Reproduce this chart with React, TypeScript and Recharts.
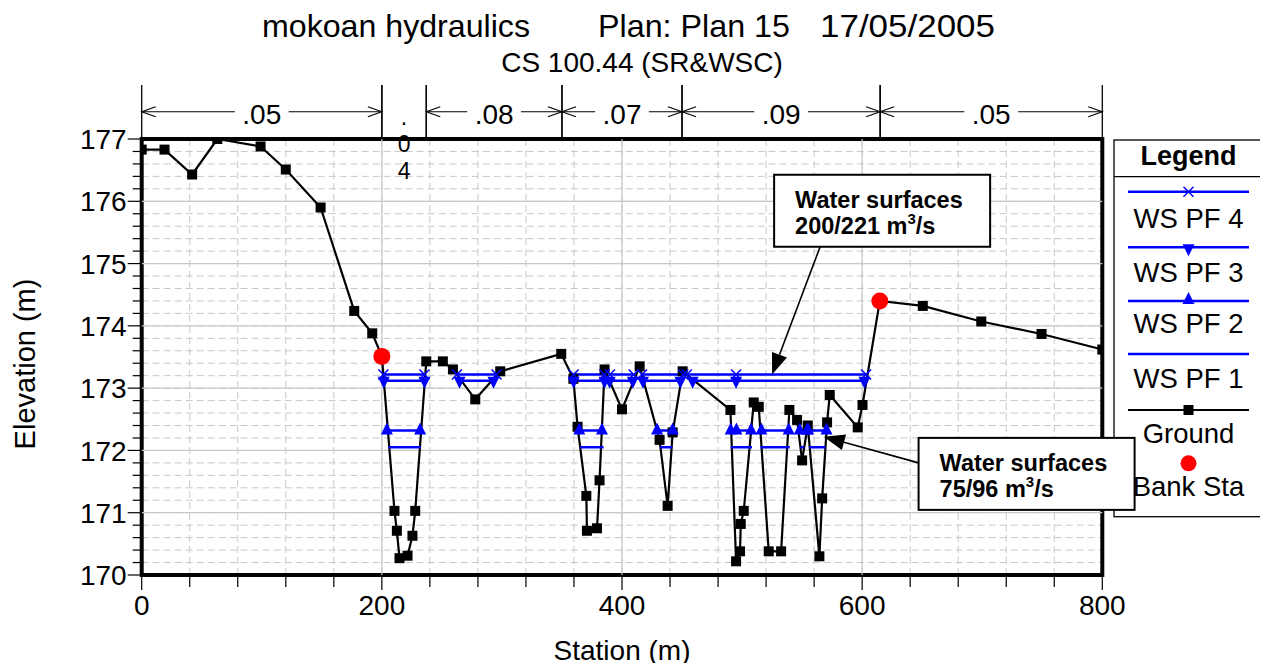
import React from 'react';
import {
  ComposedChart,
  Line,
  Scatter,
  XAxis,
  YAxis,
  CartesianGrid,
  ReferenceLine,
  ReferenceArea,
  Legend,
} from 'recharts';

const FONT = '"Liberation Sans", Arial, Helvetica, sans-serif';
const BLUE = '#0000ff';
const GRID = '#c8c8c8';

// ---- Ground profile (station m, elevation m) ----
const groundStations = [
  0, 19, 42, 63, 99, 120, 149, 177, 192, 200,
  210.5, 212.5, 214.7, 221.4, 225.5, 227.8, 237, 250.8, 259.2, 277.8,
  298.6, 349.4, 359.5, 363, 370.3, 370.8, 379.2, 381.3, 385.5, 400,
  414.7, 431.3, 438, 442.2, 450.5, 490.3, 495, 498.3, 498.9, 501.4,
  509.7, 513.9, 522.2, 532.5, 539.4, 545.8, 550, 554.7, 564.4, 566.7,
  570.8, 573, 596.3, 600.3, 614.7, 650.5, 699.2, 749.4, 800,
];
const groundElevations = [
  176.83, 176.83, 176.43, 177.0, 176.88, 176.51, 175.9, 174.24, 173.88, 173.51,
  171.03, 170.71, 170.27, 170.31, 170.63, 171.03, 173.43, 173.43, 173.3, 172.82,
  173.27, 173.55, 173.15, 172.38, 171.27, 170.71, 170.75, 171.52, 173.3, 172.66,
  173.35, 172.17, 171.11, 172.29, 173.27, 172.65, 170.22, 170.38, 170.82, 171.03,
  172.77, 172.7, 170.38, 170.38, 172.65, 172.49, 171.84, 172.4, 170.3, 171.23,
  172.45, 172.89, 172.37, 172.73, 174.4, 174.32, 174.07, 173.87, 173.62,
];

// ---- Bank stations ----
const bankStations = [200, 614.7];
const bankElevations = [173.51, 174.4];

// ---- Water surfaces (elevation + wetted station segments) ----
const wsPF4Elevation = 173.22;
const wsPF4Segments = [[201.3, 235.5], [262.5, 295.5], [359.7, 385.3], [390, 409.7], [416.7, 451], [454, 495, 603.3]];
const wsPF3Elevation = 173.12;
const wsPF3Segments = [[201.6, 235.5], [264.7, 293], [359.7, 385.5], [389.7, 409], [417.5, 448.6], [458.8, 495, 601.9]];
const wsPF2Elevation = 172.32;
const wsPF2Segments = [[204.2, 231.9], [364.4, 383.3], [429.2, 442.2], [490.5, 495.3, 507.5], [516.1, 538.8], [548, 554.2], [555.1, 570.3]];
const wsPF1Elevation = 172.05;
const wsPF1Segments = [[205.5, 232.5], [365, 384.7], [431.5, 442], [490.5, 508.3], [515.3, 539.7], [548.6, 551.8], [556, 569.4]];

// ---- Axes ----
const xTicks = [0, 40, 80, 120, 160, 200, 240, 280, 320, 360, 400, 440, 480, 520, 560, 600, 640, 680, 720, 760, 800];
const xTickLabels = [0, 200, 400, 600, 800];
const yTickLabels = [170, 171, 172, 173, 174, 175, 176, 177];
const yMinorSteps = [0, 0.2, 0.4, 0.6, 0.8];
const yTicks = yTickLabels.flatMap((t, i) =>
  i === yTickLabels.length - 1 ? [t] : yMinorSteps.map((m) => +(t + m).toFixed(1))
);

// ---- Manning's n regions ----
const nBreaks = [0, 200, 237, 350, 450, 615, 800];
const nValues = ['.05', '.04', '.08', '.07', '.09', '.05'];

// ---- Callouts ----
const calloutAnchorStations = [565, 647];
const calloutAnchorElevations = [175.27, 171.8];
const calloutTipStations = [525, 568];
const calloutTipElevations = [173.22, 172.22];
const calloutTitles = ['Water surfaces', 'Water surfaces'];
const calloutFlows = ['200/221', '75/96'];

// ---- Legend ----
const legendLabels = ['WS PF 4', 'WS PF 3', 'WS PF 2', 'WS PF 1', 'Ground', 'Bank Sta'];

// ---- derived tables ----
const groundData = groundStations.map((s, i) => ({ s, v: groundElevations[i] }));
const bankData = bankStations.map((s, i) => ({ s, v: bankElevations[i] }));
function wsData(segs: number[][], elev: number) {
  const out: { s: number; v: number | null }[] = [];
  segs.forEach((seg, i) => {
    if (i > 0) {
      const prev = segs[i - 1];
      out.push({ s: (prev[prev.length - 1] + seg[0]) / 2, v: null });
    }
    seg.forEach((s) => out.push({ s, v: elev }));
  });
  return out;
}
const pf4Data = wsData(wsPF4Segments, wsPF4Elevation);
const pf3Data = wsData(wsPF3Segments, wsPF3Elevation);
const pf2Data = wsData(wsPF2Segments, wsPF2Elevation);
const pf1Data = wsData(wsPF1Segments, wsPF1Elevation);

// ---- marker shapes ----
const empty = (k: string) => <g key={k} />;
const xMark = (p: any) => {
  const k = `x${p.index}`;
  if (p.cx == null || p.cy == null || p.payload?.v == null) return empty(k);
  const r = 5;
  return (
    <g key={k}>
      <line x1={p.cx - r} y1={p.cy - r} x2={p.cx + r} y2={p.cy + r} stroke={BLUE} strokeWidth={1.5} />
      <line x1={p.cx - r} y1={p.cy + r} x2={p.cx + r} y2={p.cy - r} stroke={BLUE} strokeWidth={1.5} />
    </g>
  );
};
const downTri = (p: any) => {
  const k = `d${p.index}`;
  if (p.cx == null || p.cy == null || p.payload?.v == null) return empty(k);
  const { cx, cy } = p;
  return <polygon key={k} points={`${cx - 6},${cy - 4} ${cx + 6},${cy - 4} ${cx},${cy + 8}`} fill={BLUE} />;
};
const upTri = (p: any) => {
  const k = `u${p.index}`;
  if (p.cx == null || p.cy == null || p.payload?.v == null) return empty(k);
  const { cx, cy } = p;
  return <polygon key={k} points={`${cx - 6},${cy + 4} ${cx + 6},${cy + 4} ${cx},${cy - 8}`} fill={BLUE} />;
};
const square = (p: any) => {
  const k = `q${p.index}`;
  if (p.cx == null || p.cy == null) return empty(k);
  if (p.payload && bankStations.includes(p.payload.s)) return empty(k);
  return <rect key={k} x={p.cx - 5} y={p.cy - 5} width={10} height={10} fill="#000" />;
};

// ---- ticks ----
const YTick = (props: any) => {
  const { x, y, payload } = props;
  const v = payload.value;
  const major = yTickLabels.some((t) => Math.abs(t - v) < 1e-6);
  return (
    <g>
      <line x1={x} x2={x - (major ? 14 : 9)} y1={y} y2={y} stroke="#000" strokeWidth={1.2} />
      {major && (
        <text x={x - 15} y={y} dy="0.36em" textAnchor="end" fontSize={28} fontFamily={FONT} fill="#000">
          {Math.round(v)}
        </text>
      )}
    </g>
  );
};
const XTick = (props: any) => {
  const { x, y, payload } = props;
  const v = payload.value;
  const major = xTickLabels.includes(v);
  return (
    <g>
      <line x1={x} x2={x} y1={y} y2={y + (major ? 15 : 12)} stroke="#000" strokeWidth={1.2} />
      {major && (
        <text x={x} y={y + 30} dy="0.36em" textAnchor="middle" fontSize={28} fontFamily={FONT} fill="#000">
          {v}
        </text>
      )}
    </g>
  );
};

// ---- Manning's n header ----
const nHeader = (p: any, label: string) => {
  const { x1, y1, x2 } = p;
  const top = y1 - 54;
  const ly = y1 - 27.3;
  const mid = (x1 + x2) / 2;
  const wide = x2 - x1 > 70;
  const half = label.length * 7.3 + 5;
  return (
    <g>
      <line x1={x1} x2={x1} y1={top} y2={y1} stroke="#000" strokeWidth={1.3} />
      <line x1={x2} x2={x2} y1={top} y2={y1} stroke="#000" strokeWidth={1.3} />
      {wide ? (
        <g>
          <line x1={x1} x2={mid - half} y1={ly} y2={ly} stroke="#000" strokeWidth={1.1} />
          <line x1={mid + half} x2={x2} y1={ly} y2={ly} stroke="#000" strokeWidth={1.1} />
          <polyline points={`${x1 + 14},${ly - 5} ${x1},${ly} ${x1 + 14},${ly + 5}`} fill="none" stroke="#000" strokeWidth={1.1} />
          <polyline points={`${x2 - 14},${ly - 5} ${x2},${ly} ${x2 - 14},${ly + 5}`} fill="none" stroke="#000" strokeWidth={1.1} />
          <text x={mid} y={y1 - 15} textAnchor="middle" fontSize={28} fontFamily={FONT} fill="#000">
            {label}
          </text>
        </g>
      ) : (
        label.split('').map((c, i) => (
          <text key={i} x={mid} y={y1 - 14 + i * 27} textAnchor="middle" fontSize={23} fontFamily={FONT} fill="#000">
            {c}
          </text>
        ))
      )}
    </g>
  );
};

// ---- callouts ----
const callout = (p: any, i: number) => {
  const { x1, y1, x2, y2 } = p;
  const dx = x2 - x1;
  const dy = y2 - y1;
  const len = Math.sqrt(dx * dx + dy * dy);
  const ux = dx / len;
  const uy = dy / len;
  const bx = x2 - ux * 21;
  const by = y2 - uy * 21;
  const nx = -uy * 8;
  const ny = ux * 8;
  const box = i === 0 ? { x: x1 - 46, y: y1 - 72 } : { x: x1, y: y1 - 25 };
  const tx = box.x + 21;
  const ty1 = box.y + 33;
  const ty2 = box.y + 59.5;
  return (
    <g>
      <line x1={x1} y1={y1} x2={bx} y2={by} stroke="#000" strokeWidth={1.6} />
      <polygon points={`${x2},${y2} ${bx + nx},${by + ny} ${bx - nx},${by - ny}`} fill="#000" />
      <rect x={box.x} y={box.y} width={216} height={72} fill="#fff" stroke="#000" strokeWidth={2} />
      <text x={tx} y={ty1} fontSize={23.5} fontWeight="bold" fontFamily={FONT} fill="#000">
        {calloutTitles[i]}
      </text>
      <text x={tx} y={ty2} fontSize={23.5} fontWeight="bold" fontFamily={FONT} fill="#000">
        <tspan>{calloutFlows[i] + ' m'}</tspan>
        <tspan dy={-10} fontSize={15}>3</tspan>
        <tspan dy={10}>/s</tspan>
      </text>
    </g>
  );
};

// ---- legend ----
const LegendBox = () => {
  const lineYs = [52.7, 108.3, 162, 215, 271];
  const textYs = [89, 142.5, 194, 249, 304, 357.4];
  return (
    <svg width={153} height={380} style={{ display: 'block', overflow: 'visible' }}>
      <rect x={1} y={1} width={149.3} height={376.7} fill="#fff" stroke="#000" strokeWidth={1.3} />
      <text x={75.5} y={25.7} textAnchor="middle" fontSize={27} fontWeight="bold" fontFamily={FONT} fill="#000">
        Legend
      </text>
      <line x1={1} x2={150.3} y1={37.7} y2={37.7} stroke="#000" strokeWidth={1.2} />
      {lineYs.map((ly, i) => (
        <line key={`l${i}`} x1={15} x2={136} y1={ly} y2={ly} stroke={i === 4 ? '#000' : BLUE} strokeWidth={i === 4 ? 2.2 : 2.5} />
      ))}
      {xMark({ cx: 75.5, cy: lineYs[0], index: 'lg', payload: { v: 1 } })}
      {downTri({ cx: 75.5, cy: lineYs[1] + 1, index: 'lg', payload: { v: 1 } })}
      {upTri({ cx: 75.5, cy: lineYs[2] - 1, index: 'lg', payload: { v: 1 } })}
      {square({ cx: 75.5, cy: lineYs[4], index: 'lg' })}
      <circle cx={75.5} cy={324.3} r={8} fill="#ff0000" />
      {legendLabels.map((t, i) => (
        <text key={`t${i}`} x={75.5} y={textYs[i]} textAnchor="middle" fontSize={27.5} fontFamily={FONT} fill="#000">
          {t}
        </text>
      ))}
    </svg>
  );
};

export default function App() {
  return (
    <div style={{ position: 'relative', width: 1252, height: 655, zIndex: 0, fontFamily: FONT }}>
      <ComposedChart width={1252} height={655} margin={{ top: 131, right: 157.7, bottom: 28, left: 13.7 }}>
        <CartesianGrid stroke={GRID} strokeDasharray="7 4" strokeWidth={1} />
        <XAxis
          type="number"
          dataKey="s"
          domain={[0, 800]}
          ticks={xTicks}
          interval={0}
          allowDataOverflow
          axisLine={false}
          tickLine={false}
          tickSize={0}
          tickMargin={0}
          height={60}
          tick={<XTick />}
        />
        <YAxis
          type="number"
          domain={[170, 177]}
          ticks={yTicks}
          interval={0}
          allowDataOverflow
          axisLine={false}
          tickLine={false}
          tickSize={0}
          tickMargin={0}
          width={120}
          tick={<YTick />}
        />
        {xTickLabels.slice(1, -1).map((v) => (
          <ReferenceLine key={`gx${v}`} x={v} stroke={GRID} strokeWidth={1.2} />
        ))}
        {yTickLabels.slice(1, -1).map((v) => (
          <ReferenceLine key={`gy${v}`} y={v} stroke={GRID} strokeWidth={1.2} />
        ))}
        <Line
          data={groundData}
          dataKey="v"
          name="Ground"
          stroke="#000"
          strokeWidth={2.2}
          dot={square}
          activeDot={false}
          isAnimationActive={false}
        />
        <Line data={pf1Data} dataKey="v" name="WS PF 1" stroke={BLUE} strokeWidth={2.5} dot={false} activeDot={false} connectNulls={false} isAnimationActive={false} />
        <Line data={pf2Data} dataKey="v" name="WS PF 2" stroke={BLUE} strokeWidth={2.5} dot={upTri} activeDot={false} connectNulls={false} isAnimationActive={false} />
        <Line data={pf3Data} dataKey="v" name="WS PF 3" stroke={BLUE} strokeWidth={2.5} dot={downTri} activeDot={false} connectNulls={false} isAnimationActive={false} />
        <Line data={pf4Data} dataKey="v" name="WS PF 4" stroke={BLUE} strokeWidth={2.5} dot={xMark} activeDot={false} connectNulls={false} isAnimationActive={false} />
        <Scatter
          data={bankData}
          dataKey="v"
          name="Bank Sta"
          fill="#ff0000"
          isAnimationActive={false}
          shape={(p: any) => <circle cx={p.cx} cy={p.cy} r={8.5} fill="#ff0000" />}
        />
        <ReferenceArea x1={0} x2={800} y1={170} y2={177} fill="none" fillOpacity={0} stroke="#000" strokeWidth={4} ifOverflow="visible" />
        {nValues.map((label, i) => (
          <ReferenceLine
            key={`n${i}`}
            segment={[
              { x: nBreaks[i], y: 177 },
              { x: nBreaks[i + 1], y: 177 },
            ]}
            ifOverflow="visible"
            shape={(p: any) => nHeader(p, label)}
          />
        ))}
        {calloutTitles.map((_, i) => (
          <ReferenceLine
            key={`c${i}`}
            segment={[
              { x: calloutAnchorStations[i], y: calloutAnchorElevations[i] },
              { x: calloutTipStations[i], y: calloutTipElevations[i] },
            ]}
            ifOverflow="visible"
            shape={(p: any) => callout(p, i)}
          />
        ))}
        <Legend
          layout="vertical"
          align="center"
          verticalAlign="middle"
          content={() => <LegendBox />}
          wrapperStyle={{ position: 'absolute', left: 1105, top: 131, width: 153, height: 380, zIndex: -1 }}
        />
      </ComposedChart>
      <svg
        width={1250}
        height={668}
        style={{ position: 'absolute', left: -8, top: -8, pointerEvents: 'none', overflow: 'visible' }}
      >
        <g fontFamily={FONT} fill="#000">
          <text x={262} y={37} fontSize={32} textLength={268} lengthAdjust="spacingAndGlyphs">mokoan hydraulics</text>
          <text x={598} y={37} fontSize={32} textLength={192} lengthAdjust="spacingAndGlyphs">Plan: Plan 15</text>
          <text x={820} y={37} fontSize={32} textLength={175} lengthAdjust="spacingAndGlyphs">17/05/2005</text>
          <text x={642} y={72} fontSize={28} textAnchor="middle">{'CS 100.44 (SR&WSC)'}</text>
          <text transform="translate(35,364) rotate(-90)" fontSize={29} textAnchor="middle">Elevation (m)</text>
          <text x={622} y={660} fontSize={28} textAnchor="middle">Station (m)</text>
        </g>
      </svg>
    </div>
  );
}
